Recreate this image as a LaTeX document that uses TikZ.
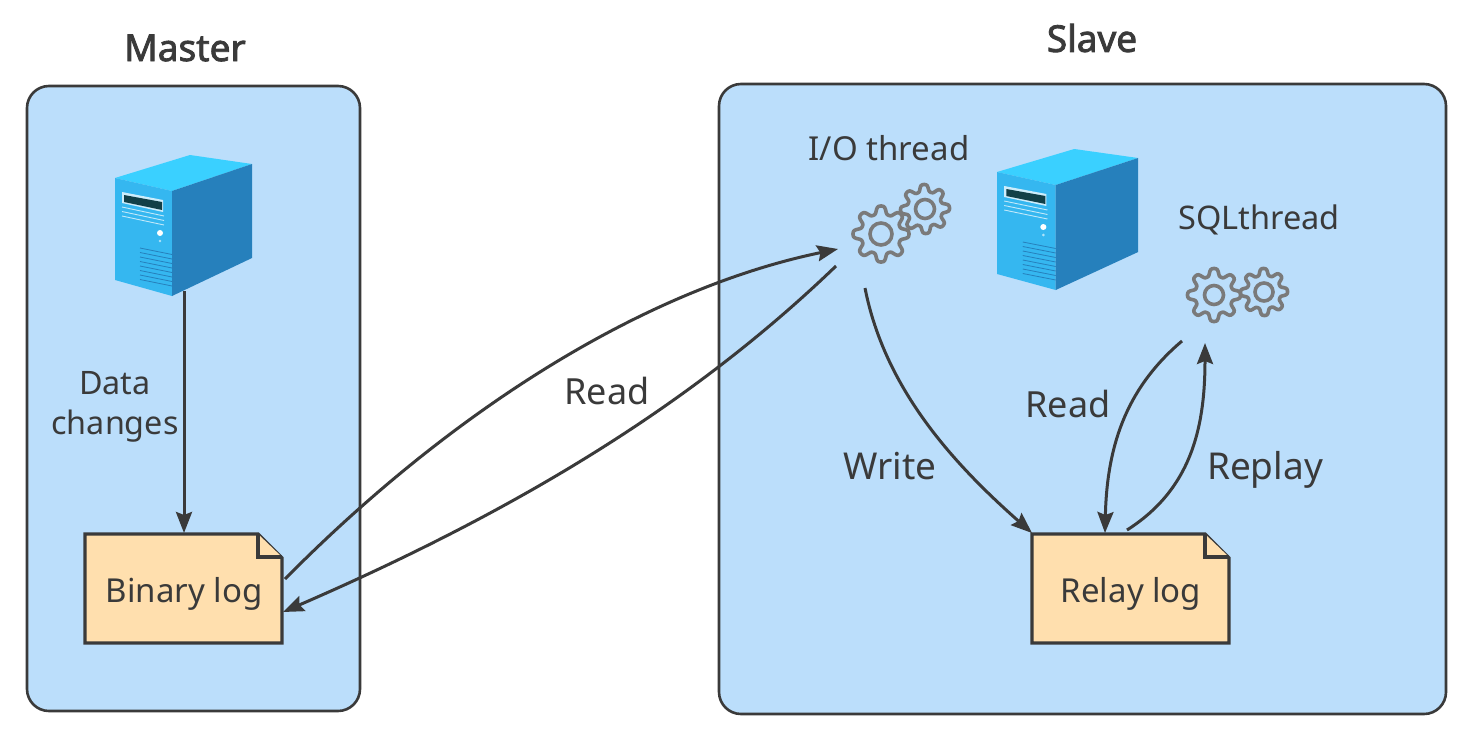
\documentclass[tikz,border=0pt]{standalone}
\usepackage{fontspec}
\setmainfont{Noto Sans}
\newfontfamily\titlefont[RawFeature={embolden=2.2}]{Noto Sans}
\usetikzlibrary{arrows.meta}
\definecolor{panelblue}{HTML}{BBDEFB}
\definecolor{inkdark}{HTML}{3A3A3A}
\definecolor{notefill}{HTML}{FFDFAE}
\definecolor{gearinkc}{HTML}{7A7A7A}
\definecolor{towertop}{HTML}{3AD0FF}
\definecolor{towerfront}{HTML}{35B7F0}
\definecolor{towerside}{HTML}{2680BC}
\definecolor{slotdark}{HTML}{124048}
\newcommand{\txt}[1]{\fontsize{#1}{40}\selectfont}
% one toothed wheel: centre x, centre y, outer radius, hub radius, turn
\newcommand{\gearwheel}[5]{%
  \draw[gearline,shift={(#1,#2)}] plot[smooth,domain=0:360,samples=145]
    ({#3*(0.86+0.14*tanh(1.6*cos(8*\x+#5))/0.92)*cos(\x)},{#3*(0.86+0.14*tanh(1.6*cos(8*\x+#5))/0.92)*sin(\x)}) -- cycle;
  \draw[gearline] (#1,#2) circle (#4);
}
% tower computer, drawn from its top-left reference point
\newcommand{\tower}[1]{%
  \begin{scope}[#1]
    \fill[towertop] (0,23) -- (75,0) -- (137,9) -- (57,36) -- cycle;
    \fill[towerfront] (0,23) -- (57,36) -- (57,141) -- (0,125) -- cycle;
    \fill[towerside] (57,36) -- (137,9) -- (137,103) -- (57,141) -- cycle;
    \fill[white!75!towerfront] (7,37) -- (48,45) -- (48,57) -- (7,48) -- cycle;
    \fill[slotdark] (9,40) -- (47,47) -- (47,55) -- (9,47) -- cycle;
    \foreach \d in {0,4.5,9}
      \draw[white!70!towerfront,line width=0.9pt] (7,{52+\d}) -- (49,{61+\d});
    \fill[white] (45,78) circle (3);
    \fill[white!60!towerfront] (45,86) circle (1.4);
    \foreach \d in {0,4.5,...,32}
      \draw[towerside,line width=0.8pt] (25,{93+\d}) -- (57,{99.5+\d});
  \end{scope}
}
\tikzset{
  x=1pt,y=-1pt,
  panel/.style={draw=inkdark,line width=2.6pt,fill=panelblue,rounded corners=22pt},
  notepage/.style={draw=inkdark,line width=3.4pt,fill=notefill,line join=miter},
  gearline/.style={draw=gearinkc,line width=3.6pt},
  flow/.style={draw=inkdark,line width=3pt,-{Stealth[length=21pt,width=16pt,inset=3pt]}},
  lab/.style={text=inkdark,font=\txt{33},inner sep=0pt,align=center},
  head/.style={text=inkdark,font=\titlefont\txt{37},inner sep=0pt},
}
\begin{document}
\begin{tikzpicture}
\useasboundingbox (0,0) rectangle (1472,736);
\fill[white] (0,0) rectangle (1472,736);

% enclosing panels
\draw[panel] (27,86) rectangle (360,711);
\draw[panel] (719,84) rectangle (1446,714);
\node[head] (mastertitle) at (185,48) {Master};
\node[head] (slavetitle) at (1092,38) {Slave};

% computers
\tower{shift={(115,155)}}
\tower{shift={(997,149)},xscale=1.03}

% thread gears
\gearwheel{925}{209}{24.5}{9.5}{20}
\gearwheel{881}{234}{28}{11}{0}
\gearwheel{1264}{292}{23.5}{9}{10}
\gearwheel{1214}{295}{26.5}{9.5}{0}
\node[lab,font=\txt{33}] (iothread) at (889,148) {I/O thread};
\node[lab,font=\txt{32.5}] (sqlthread) at (1259,220) {SQLthread};

% log files with a folded corner
\draw[notepage] (85,534) -- (258,534) -- (282,558) -- (282,643) -- (85,643) -- cycle;
\draw[notepage] (258,534) -- (258,557) -- (282,557);
\node[lab] (binarylog) at (184,594) {Binary log};
\draw[notepage] (1032,534) -- (1205,534) -- (1229,558) -- (1229,643) -- (1032,643) -- cycle;
\draw[notepage] (1205,534) -- (1205,557) -- (1229,557);
\node[lab] (relaylog) at (1131,594) {Relay log};

% connector end points
\coordinate (srvfoot) at (184,291);
\coordinate (bintop) at (184,533);
\coordinate (binout) at (285,579);
\coordinate (binin) at (283,612);
\coordinate (ioin) at (838,249);
\coordinate (ioout) at (836,266);
\coordinate (iodown) at (865,288);
\coordinate (relayleft) at (1032,533);
\coordinate (sqlout) at (1182,341);
\coordinate (relaytop) at (1105,533);
\coordinate (relayup) at (1127,530);
\coordinate (sqlin) at (1205,343);

% data flow
\draw[flow] (srvfoot) -- (bintop);
\draw[flow] (binout) .. controls (447,415) and (640,290) .. (ioin);
\draw[flow] (ioout) .. controls (700,397) and (530,505) .. (binin);
\draw[flow] (iodown) .. controls (885,390) and (955,465) .. (relayleft);
\draw[flow] (sqlout) .. controls (1130,385) and (1107,440) .. (relaytop);
\draw[flow] (relayup) .. controls (1190,490) and (1205,430) .. (sqlin);

% connector labels
\node[lab,font=\txt{32.3}] (datachanges) at (115,407) {Data\\changes};
\node[lab,font=\txt{36}] (readleft) at (607,391) {Read};
\node[lab,font=\txt{37}] (writelab) at (890,466) {Write};
\node[lab,font=\txt{36}] (readright) at (1068,404) {Read};
\node[lab,font=\txt{37}] (replaylab) at (1265,470) {Replay};
\end{tikzpicture}
\end{document}
